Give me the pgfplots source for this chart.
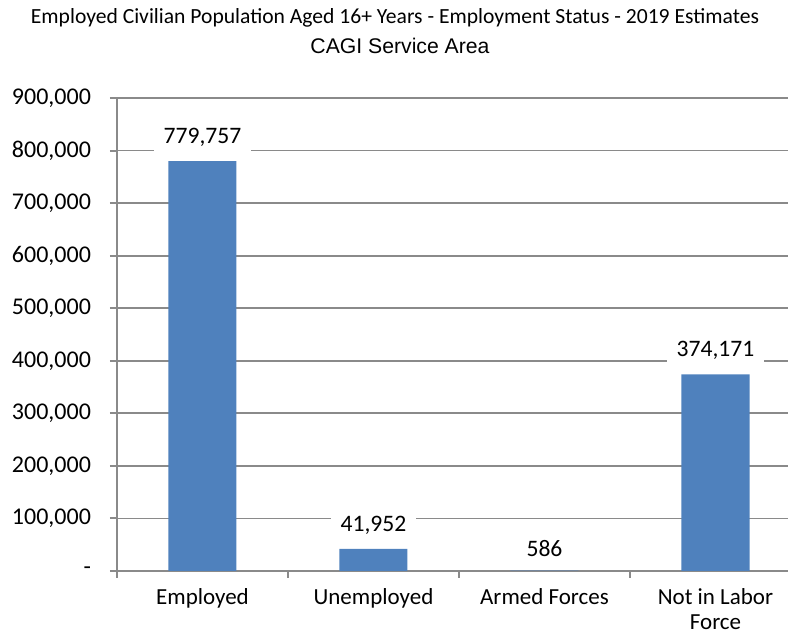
\documentclass[border=0pt]{standalone}
\usepackage{fontspec}
\setmainfont{Carlito}
\newfontfamily\arialf{Liberation Sans}
\usepackage{pgfplots}
\pgfplotsset{compat=1.18}
\definecolor{barblue}{HTML}{4F81BD}
\definecolor{gridgray}{HTML}{8A8A8A}
\begin{document}
\begin{tikzpicture}[x=0.5pt,y=0.5pt]
\useasboundingbox (0,0) rectangle (788,632);
\node[font=\fontsize{10.8}{12}\selectfont] at (395,614) {Employed Civilian Population Aged 16+ Years - Employment Status - 2019 Estimates};
\node[font=\arialf\fontsize{10.6}{12}\selectfont] at (400,586) {CAGI Service Area};
\begin{axis}[
  at={(58.5pt,30.5pt)}, anchor=south west,
  width=342pt, height=236.5pt, scale only axis,
  xmin=-0.5, xmax=3.5, ymin=0, ymax=900000,
  axis lines=left,
  axis line style={-, gridgray, line width=1pt},
  ybar, bar width=34pt,
  scaled y ticks=false,
  ytick={0,100000,200000,300000,400000,500000,600000,700000,800000,900000},
  yticklabels={{-},{100,000},{200,000},{300,000},{400,000},{500,000},{600,000},{700,000},{800,000},{900,000}},
  ymajorgrids,
  major grid style={gridgray, line width=0.9pt},
  xtick={-0.5,0.5,1.5,2.5,3.5},
  xticklabels={Employed,Unemployed,Armed Forces,{Not in Labor\\Force},{}},
  xticklabel style={align=center, xshift=42.75pt, yshift=-1.5pt, font=\fontsize{11.5}{12.8}\selectfont},
  yticklabel style={xshift=-6pt, font=\fontsize{12}{13}\selectfont},
  tick align=outside,
  major tick length=3.5pt,
  tick style={gridgray, line width=1pt},
  nodes near coords={\pgfmathprintnumber[assume math mode=true, fixed, precision=0, 1000 sep={,}]{\pgfplotspointmeta}},
  every node near coord/.append style={fill=white, inner xsep=5pt, inner ysep=3pt, anchor=south, yshift=4pt, font=\fontsize{11.8}{13}\selectfont, text=black},
  clip=false,
]
\addplot[fill=barblue, draw=none] coordinates {(0,779757) (1,41952) (2,586) (3,374171)};
\end{axis}
\end{tikzpicture}
\end{document}
